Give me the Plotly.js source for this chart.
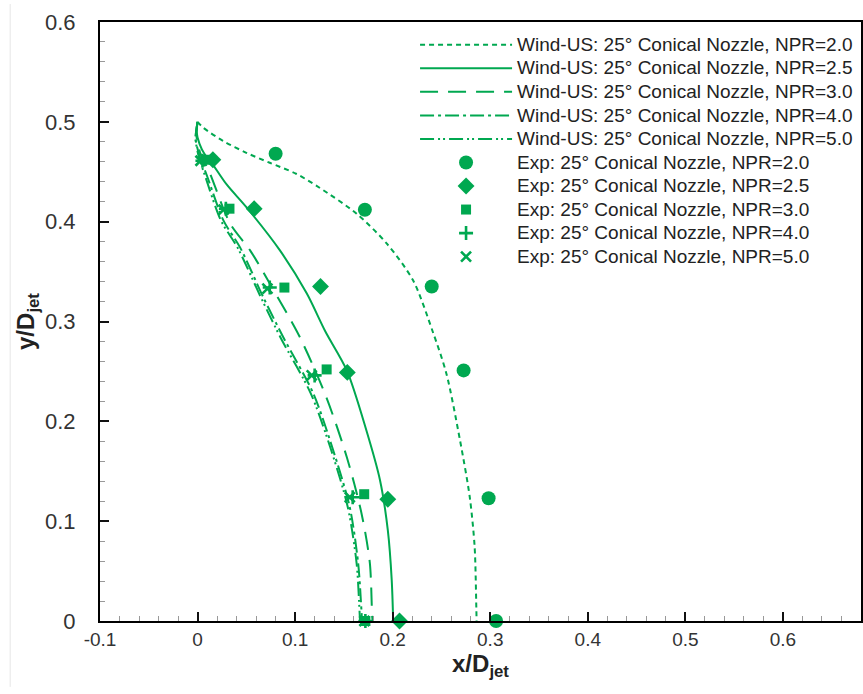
<!DOCTYPE html>
<html>
<head>
<meta charset="utf-8">
<script src="https://cdn.plot.ly/plotly-3.0.1.min.js"></script>
<style>html,body{margin:0;padding:0;background:#fff;}#chart{width:863px;height:694px;}</style>
</head>
<body>
<div id="chart"></div>
<script>
// Wind-US computed lines
const npr20_x = [0, 0.006, 0.026, 0.050, 0.074, 0.101, 0.125, 0.163, 0.194, 0.221, 0.241, 0.255, 0.269, 0.279, 0.284, 0.2857, 0.286];
const npr20_y = [0.5, 0.494, 0.481, 0.469, 0.459, 0.448, 0.434, 0.408, 0.378, 0.341, 0.290, 0.248, 0.181, 0.124, 0.074, 0.014, 0.0];

const npr25_x = [0, -0.001, 0.002, 0.007, 0.013, 0.030, 0.0505, 0.0846, 0.112, 0.131, 0.153, 0.173, 0.187, 0.195, 0.199, 0.2005];
const npr25_y = [0.5, 0.490, 0.478, 0.468, 0.461, 0.437, 0.414, 0.371, 0.328, 0.290, 0.251, 0.191, 0.141, 0.091, 0.041, 0.0];

const npr30_x = [0, -0.001, 0.003, 0.012, 0.0334, 0.054, 0.074, 0.105, 0.132, 0.153, 0.168, 0.1766, 0.179, 0.1795];
const npr30_y = [0.5, 0.485, 0.468, 0.450, 0.398, 0.371, 0.338, 0.284, 0.224, 0.164, 0.108, 0.058, 0.004, 0.0];

const npr40_x = [0, -0.002, 0.002, 0.010, 0.0266, 0.0437, 0.0675, 0.088, 0.1186, 0.139, 0.156, 0.1646, 0.168, 0.1685];
const npr40_y = [0.5, 0.483, 0.466, 0.445, 0.401, 0.374, 0.324, 0.284, 0.228, 0.171, 0.114, 0.058, 0.010, 0.0];

const npr50_x = [0, -0.002, 0.001, 0.008, 0.024, 0.041, 0.065, 0.085, 0.116, 0.137, 0.154, 0.163, 0.166, 0.1665];
const npr50_y = [0.5, 0.483, 0.466, 0.445, 0.401, 0.374, 0.324, 0.284, 0.228, 0.171, 0.114, 0.058, 0.010, 0.0];

// Experimental points
const exp20_x = [0.080, 0.1715, 0.240, 0.2727, 0.2983, 0.306];
const exp20_y = [0.468, 0.412, 0.335, 0.251, 0.123, 0.0];

const exp25_x = [0.0157, 0.058, 0.126, 0.1535, 0.195, 0.207];
const exp25_y = [0.462, 0.413, 0.335, 0.249, 0.122, 0.0];

const exp30_x = [0.008, 0.0327, 0.089, 0.1323, 0.1708, 0.172];
const exp30_y = [0.462, 0.413, 0.334, 0.252, 0.127, 0.0];

const exp40_x = [0.005, 0.029, 0.074, 0.120, 0.159, 0.172];
const exp40_y = [0.461, 0.413, 0.334, 0.246, 0.124, 0.0];

const exp50_x = [0.003, 0.0267, 0.0716, 0.117, 0.156, 0.171];
const exp50_y = [0.461, 0.412, 0.333, 0.246, 0.124, 0.0];

const lineNames = [
  "Wind-US: 25° Conical Nozzle, NPR=2.0",
  "Wind-US: 25° Conical Nozzle, NPR=2.5",
  "Wind-US: 25° Conical Nozzle, NPR=3.0",
  "Wind-US: 25° Conical Nozzle, NPR=4.0",
  "Wind-US: 25° Conical Nozzle, NPR=5.0"
];
const expNames = [
  "Exp: 25° Conical Nozzle, NPR=2.0",
  "Exp: 25° Conical Nozzle, NPR=2.5",
  "Exp: 25° Conical Nozzle, NPR=3.0",
  "Exp: 25° Conical Nozzle, NPR=4.0",
  "Exp: 25° Conical Nozzle, NPR=5.0"
];

const xTickVals = [-0.1, 0, 0.1, 0.2, 0.3, 0.4, 0.5, 0.6];
const xTickText = ["-0.1", "0", "0.1", "0.2", "0.3", "0.4", "0.5", "0.6"];
const yTickVals = [0, 0.1, 0.2, 0.3, 0.4, 0.5, 0.6];
const yTickText = ["0", "0.1", "0.2", "0.3", "0.4", "0.5", "0.6"];

const green = "rgb(0,168,80)";
const FONT = "Liberation Sans, Arial, sans-serif";

const lineX = [npr20_x, npr25_x, npr30_x, npr40_x, npr50_x];
const lineY = [npr20_y, npr25_y, npr30_y, npr40_y, npr50_y];
const dashes = ["5px,4px", "solid", "18px,10px", "14px,4px,3px,4px", "14px,4px,2px,3px,2px,4px"];

const expX = [exp20_x, exp25_x, exp30_x, exp40_x, exp50_x];
const expY = [exp20_y, exp25_y, exp30_y, exp40_y, exp50_y];
const symbols = ["circle", "diamond", "square", "cross-thin", "x-thin"];
const sizes = [14, 13, 10, 10, 10];

function legendLabel(s) { return '<span style="font-size:19px">' + s + '</span>'; }

const traces = [];
for (let i = 0; i < 5; i++) {
  traces.push({
    x: lineX[i], y: lineY[i], type: "scatter", mode: "lines",
    name: legendLabel(lineNames[i]),
    line: {color: green, width: 2, dash: dashes[i], shape: "spline", smoothing: 0.8}
  });
}
for (let i = 0; i < 5; i++) {
  const thin = symbols[i].indexOf("thin") >= 0;
  traces.push({
    x: expX[i], y: expY[i], type: "scatter", mode: "markers",
    name: legendLabel(expNames[i]), cliponaxis: false,
    marker: {color: green, symbol: symbols[i], size: sizes[i],
      line: thin ? {color: green, width: 2.6} : {width: 0}}
  });
}

const axisCommon = {
  showline: true, linecolor: "#000", linewidth: 2, mirror: true,
  ticks: "inside", ticklen: 9, tickwidth: 2, tickcolor: "#111",
  showgrid: false, zeroline: false
};

const layout = {
  width: 863, height: 694,
  margin: {l: 100, r: 2, t: 22, b: 73},
  paper_bgcolor: "#fff", plot_bgcolor: "#fff",
  showlegend: true,
  legend: {
    x: 0.414, y: 0.99, xanchor: "left", yanchor: "top",
    bgcolor: "rgba(0,0,0,0)", borderwidth: 0,
    font: {family: FONT, size: 15.8, color: "#222"},
    itemwidth: 92, tracegroupgap: 0
  },
  xaxis: Object.assign({}, axisCommon, {
    range: [-0.1, 0.68], tickvals: xTickVals, ticktext: xTickText,
    tickfont: {family: FONT, size: 19, color: "#333"},
    minor: {dtick: 0.02, tick0: 0, ticks: "inside", ticklen: 5, tickwidth: 1, tickcolor: "#999"},
    title: {text: "<b>x/D<sub>jet</sub></b>", font: {family: FONT, size: 24, color: "#222"}, standoff: 6}
  }),
  yaxis: Object.assign({}, axisCommon, {
    range: [0, 0.6], tickvals: yTickVals, ticktext: yTickText,
    tickfont: {family: FONT, size: 22, color: "#333"},
    ticklabelstandoff: 18,
    minor: {dtick: 0.02, tick0: 0, ticks: "inside", ticklen: 5, tickwidth: 1, tickcolor: "#999"},
    title: {text: "<b>y/D<sub>jet</sub></b>", font: {family: FONT, size: 24, color: "#222"}, standoff: 4}
  }),
  shapes: [{type: "line", xref: "paper", yref: "paper", x0: -0.118, x1: -0.118, y0: -0.11, y1: 1.03, line: {color: "#e6e6e6", width: 1}}]
};

Plotly.newPlot("chart", traces, layout, {displayModeBar: false, staticPlot: true});
</script>
</body>
</html>
